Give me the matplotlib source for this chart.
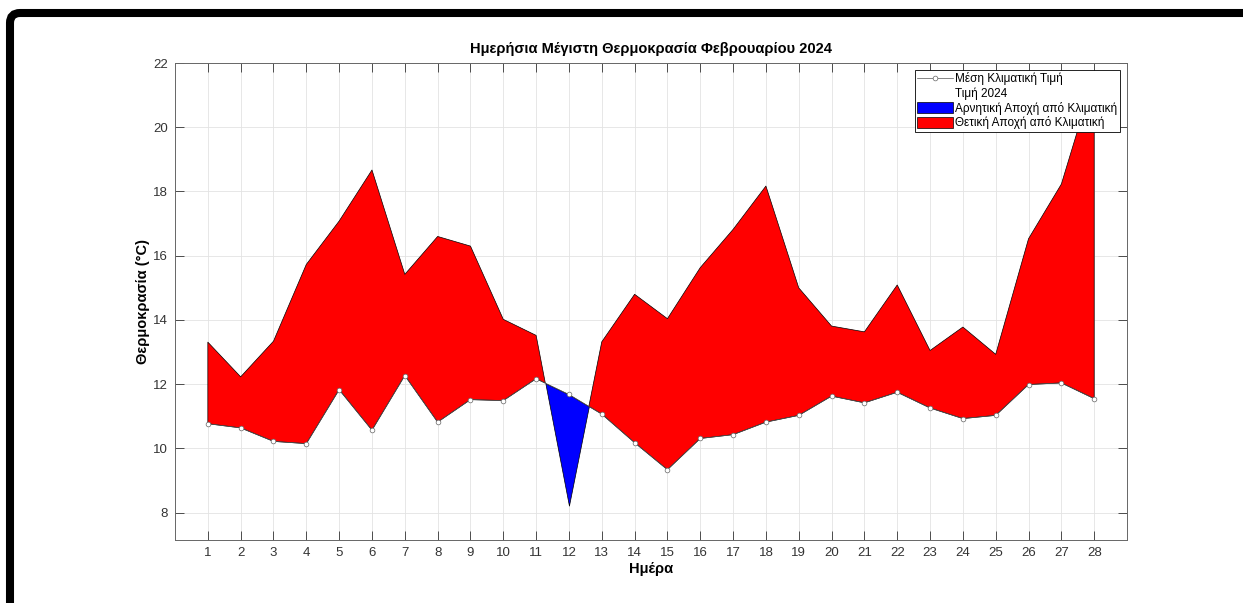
import numpy as np
import matplotlib.pyplot as plt
from matplotlib.patches import FancyBboxPatch

plt.rcParams['font.family'] = ['Liberation Sans', 'DejaVu Sans']

# Data
days = np.arange(1, 29)
clim_mean = [10.77, 10.64, 10.22, 10.15, 11.83, 10.57, 12.27, 10.82, 11.52, 11.49,
             12.17, 11.68, 11.07, 10.18, 9.34, 10.31, 10.43, 10.82, 11.03, 11.63,
             11.42, 11.75, 11.26, 10.93, 11.03, 11.99, 12.04, 11.55]
tmax_2024 = [13.31, 12.23, 13.34, 15.73, 17.08, 18.67, 15.42, 16.6, 16.3, 14.02,
             13.52, 8.22, 13.32, 14.8, 14.04, 15.63, 16.82, 18.17, 15.0, 13.81,
             13.63, 15.09, 13.05, 13.78, 12.93, 16.53, 18.23, 21.6]

clim = np.array(clim_mean)
t24 = np.array(tmax_2024)

fig = plt.figure(figsize=(12.43, 6.03), dpi=100)
ax = fig.add_axes([0.1408, 0.1045, 0.7659, 0.7910])

t24_line, = ax.plot(days, t24, color='white', lw=0.5, zorder=1, label='Τιμή 2024')
neg = ax.fill_between(days, clim, t24, where=t24 < clim, interpolate=True,
                      facecolor='blue', edgecolor='black', lw=0.5, zorder=2)
pos = ax.fill_between(days, clim, t24, where=t24 >= clim, interpolate=True,
                      facecolor='red', edgecolor='black', lw=0.5, zorder=2)
clim_line, = ax.plot(days, clim, color='#555555', lw=0.5, marker='o', ms=3.4,
                     mfc='white', mec='#666666', mew=0.5, zorder=3)

ax.set_xlim(0, 29)
ax.set_ylim(7.15, 22)
ax.set_xticks(days)
ax.set_yticks(np.arange(8, 23, 2))
ax.grid(True, color='#e3e3e3', lw=0.6)
ax.set_axisbelow(True)
ax.tick_params(direction='in', length=6.5, width=0.6, colors='#333333',
               top=True, right=True, labelsize=9.5, pad=5)
for s in ax.spines.values():
    s.set_color('#666666')
    s.set_linewidth(0.7)

ax.set_title('Ημερήσια Μέγιστη Θερμοκρασία Φεβρουαρίου 2024',
             fontsize=10.5, fontweight='bold', pad=7)
ax.set_xlabel('Ημέρα', fontsize=10.5, fontweight='bold', labelpad=2)
ax.set_ylabel('Θερμοκρασία (°C)', fontsize=10.5, fontweight='bold', labelpad=2)

leg = ax.legend([clim_line, t24_line, neg, pos],
                ['Μέση Κλιματική Τιμή', 'Τιμή 2024',
                 'Αρνητική Αποχή από Κλιματική', 'Θετική Αποχή από Κλιματική'],
                loc='upper right', fontsize=8.5, fancybox=False, framealpha=1,
                edgecolor='black', handlelength=3.0, handleheight=1.1,
                labelspacing=0.15, borderpad=0.2, handletextpad=0.25,
                borderaxespad=0.6)
leg.get_frame().set_linewidth(0.6)

# black window frame (top and left edges)
frame = FancyBboxPatch((0.10, -1.0), 13.0, 6.90, boxstyle='round,pad=0,rounding_size=0.1',
                       transform=fig.dpi_scale_trans, facecolor='none',
                       edgecolor='black', lw=5.8, clip_on=False)
fig.patches.append(frame)

fig.savefig('out.png', dpi=100)
